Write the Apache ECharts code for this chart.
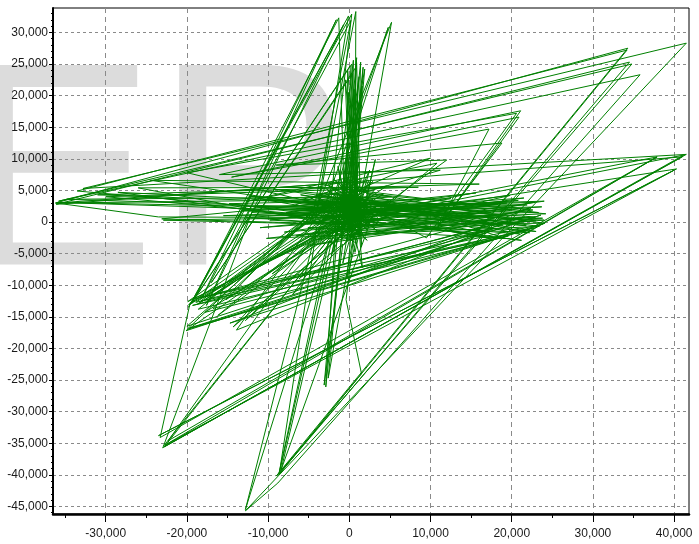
<!DOCTYPE html>
<html>
<head>
<meta charset="utf-8">
<script src="https://cdn.jsdelivr.net/npm/echarts@6/dist/echarts.min.js"></script>
<style>
html,body{margin:0;padding:0;background:#fff;}
#chart{width:699px;height:544px;}
</style>
</head>
<body>
<div id="chart"></div>
<script>
// ---- axis ranges and tick labels ----
const xMin = -36490, xMax = 41830;
const yMin = -46200, yMax = 33860;
const xMajorTicks = [-30000, -20000, -10000, 0, 10000, 20000, 30000, 40000];
const xMinorTicks = [-35000, -25000, -15000, -5000, 5000, 15000, 25000, 35000];
const yMajorTicks = [-45000, -40000, -35000, -30000, -25000, -20000, -15000, -10000, -5000, 0, 5000, 10000, 15000, 20000, 25000, 30000];
const yMinorTicks = [];
for (let v = -46000; v <= 33000; v += 1000) { if (v % 5000 !== 0) yMinorTicks.push(v); }

// ---- path of the X/Y trace (in drawing order) ----
const pathCoreA = [
  [300, 700], [1800, 2600], [-1200, -900], [2600, 4300], [-2300, 1500], [900, -2800],
  [-600, 6200], [3300, 500], [-2900, -1900], [500, 3100], [-1600, 4700], [2200, -1300],
  [-400, 1900], [1300, 5700], [-3400, 300], [4100, 2200], [-700, -3600], [1900, 1100],
  [-2800, 5200], [3700, -1700], [-1100, 3400], [600, -600], [-4800, 3900], [2400, 6600],
  [-200, -2300], [5600, 1400], [-3600, 2000], [1000, 4400], [-1900, -500], [2900, 3600]
];
const pathUpperBundle = [
  [-36200, 3000], [34300, 27500], [-9000, -40200], [34800, 25000], [-35800, 3300],
  [35800, 23300], [-8800, -41300], [-12800, -45700], [41500, 28300], [-32800, 5300],
  [41500, 10700], [-23000, -35700], [41000, 10300], [-36100, 2800], [34500, 25300],
  [-8600, -39800], [34200, 27200], [-33500, 4900], [-1500, 1300]
];
const pathBands = [
  [2400, 800], [40300, 8400], [-23500, -33800], [40000, 8200], [-22700, -35300],
  [37900, 10300], [-23300, -34100], [-19600, -12800], [-300, 900], [-22900, -35500],
  [-12000, 1500], [1600, 600], [41200, 10600], [-22800, -35600], [-1000, -200]
];
const pathLowerLeft = [
  [-20100, -17200], [23600, 1100], [-19700, -16800], [23900, -300], [-18000, -11900],
  [22400, 2300], [-14700, -16000], [21300, -1400], [-19300, -13200], [20500, 600],
  [-13900, -17100], [-3000, 2600], [-17500, -12400], [1500, 4200], [-16200, -14800],
  [-800, -500], [-19900, -12600], [-2200, 3300], [-18600, -13800], [22800, -900],
  [-20000, -17000], [-4500, 1800], [-15200, -12300], [2600, 2100], [-12800, -15600],
  [-1700, -1200], [-17800, -14300], [19600, -2200], [-18900, -12700], [-600, 2500]
];
const pathTopSpikes = [
  [-1300, 32300], [-19400, -12900], [-100, 32600], [-4100, 800], [800, 33300],
  [700, -1300], [5200, 31600], [-4600, 400], [200, 31900], [-18200, -12100],
  [-1600, 32000], [-17600, -13200], [-700, 31200], [-19800, -13500], [300, 32900],
  [-2400, 2100], [4800, 30800], [-3900, -600], [-1600, 2600]
];
const pathSpike = [
  [500, 25600], [300, -2600], [1700, 24500], [-300, 1100], [-200, 24000], [1500, -3900],
  [900, 25200], [-1100, 2100], [1200, 23000], [0, -1200], [600, 21000], [-700, 4800],
  [1900, 24200], [200, -500], [-500, 22500], [1000, 2800], [300, 25000], [-19000, -12000],
  [100, 24700], [800, -800], [1400, 25300], [-400, 3300], [-100, 20500], [1100, -2000],
  [700, 24300], [-17000, -9600], [400, 23500], [-900, 500], [1600, 21500], [-300, -3000],
  [900, 26000], [0, 1500]
];
const pathRightCluster = [
  [20800, 3400], [-2100, 1600], [23800, 600], [-5100, -900], [19200, -2600],
  [2100, 4500], [22600, 1900], [-1300, -2200], [24000, 300], [-6500, 2100],
  [21800, -600], [300, 3300], [17500, 1500], [-3500, 4100], [23000, -1500],
  [-1800, 800], [19800, 4200], [-4200, -2800], [22000, 100], [-300, 5200],
  [23300, 1500], [-7500, 1000], [21000, -1900], [3000, 3000], [24100, -200],
  [-2500, -400], [18300, 2800], [-5400, 3200], [22900, 800], [600, -1800]
];
const pathMidRight = [
  [10800, 9300], [-12500, 3300], [10000, 10100], [-2600, 3000], [11200, 8200],
  [-16000, 7500], [21100, 17600], [11500, 0], [20900, 16600], [-14500, 7100],
  [17200, 14700], [10800, -1000], [18800, 12500], [-9000, 9000], [12000, 9800],
  [2500, 1000], [-20000, 7800], [20600, 17200], [9500, -2500], [-3000, 6000]
];
const pathLeftFlat = [
  [-36100, 3000], [-23500, 800], [-1800, 700], [-22900, 300], [1300, -500],
  [-28500, 4700], [4000, 2700], [-31000, 4300], [16000, 6000], [-24500, 6600],
  [2600, 1500], [-35900, 3100], [-900, 2200], [-34800, 3600], [5200, 4000],
  [-23100, 500], [-2300, -300], [-26000, 5400], [8500, 5500], [-30000, 4000],
  [-500, 600], [37900, 10300], [-22300, -34600], [-1500, 2800]
];
const pathSouth = [
  [-2900, -26100], [-600, 2000], [-2600, -24700], [600, -1600], [-400, -12300],
  [1500, -24000], [-8700, -40000], [-2500, -3000], [-12800, -45500], [-4000, -900],
  [-8600, -39600], [-2000, -2000], [-9500, -8200], [1200, 3300], [-7000, -11500],
  [2800, 800], [-8400, -39200], [-1400, -1000], [-3100, -25800], [-800, -3500],
  [-6200, -9000], [1900, 1900], [-10500, -6500], [-400, -700]
];
const pathCoreB = [
  [1000, 900], [-2700, 3400], [2800, -800], [-1000, 5400], [3700, 1800], [-3800, -1000],
  [600, 7200], [-1900, -3400], [2400, 2900], [-800, 600], [4200, 4400], [-4300, 2200],
  [1700, -2100], [-200, 3600], [2900, 6400], [-2400, -200], [1100, 1500], [-3100, 4600],
  [3600, -400], [-1400, 2700], [5200, 3300], [-5600, 1200], [800, -3300], [-900, 4100],
  [2000, 200], [-2600, 5900], [4500, 900], [-3700, -2400], [300, 2400], [1500, 6900],
  [-6800, 2600], [6300, 1700], [-1200, -1800], [3100, 5100], [-4100, 4300], [2200, -2900],
  [-300, 400], [7200, 2900], [-5200, -300], [1400, 3900], [-2000, 6800], [3900, 200],
  [-3300, 1100], [500, 5000], [-900, -2700], [2700, 1400], [-6000, 3600], [4600, 5700],
  [-1500, 300], [100, 2900]
];
const pathCoreC = [
  [-11500, 2400], [18500, 1200], [-8000, -1600], [21500, 3800], [-12600, 700], [16800, -1800],
  [-6000, 4300], [23400, -700], [-10200, -2600], [20000, 2000], [-7200, 3100], [14500, -300],
  [-13300, 1800], [22700, 3100], [-4800, -3700], [17900, 500], [-9400, 5200], [24200, 1300],
  [-5600, -200], [12500, 3700], [-14800, 2900], [21200, -2900], [-3000, 1000], [19400, 3000],
  [-11000, -900], [23700, 2400], [-7800, 1500], [15600, 4600], [-9800, 300], [22200, -1700],
  [-2000, 4500], [18900, -500], [-12400, 4100], [20700, 1500], [-6600, -2200], [24000, 3300],
  [-8900, 2000], [13800, 1000], [-15500, 1000], [21900, 2700], [-4000, 2900], [17000, -2500],
  [-10700, 3600], [23000, 200], [-1500, -1500], [2000, 2000]
];
const pathDcluster = [
  [-19800, -13100], [-1000, 3800], [-18300, -12500], [21600, 800], [-20000, -16500],
  [-5500, -200], [-16800, -13700], [18000, -1000], [-19200, -12200], [3400, 2500],
  [-14300, -16600], [-2800, -600], [-18700, -13000], [-300, 1600]
];
const pathCoreD = [
  [1200, 9500], [-800, -6500], [2500, 8200], [-2200, -5200], [400, 10500], [1600, -7200],
  [-1400, 8800], [700, -4800], [3200, 9900], [-300, -9000], [900, 7400], [-2600, -3500],
  [200, 1000]
];
const pathPoints = [].concat(pathCoreA, pathUpperBundle, pathBands, pathLowerLeft,
  pathTopSpikes, pathSpike, pathRightCluster, pathMidRight, pathLeftFlat, pathSouth,
  pathCoreB, pathCoreC, pathDcluster, pathCoreD);

function fmt(v) {
  const s = Math.abs(v).toString().replace(/\B(?=(\d{3})+(?!\d))/g, ',');
  return (v < 0 ? '-' : '') + s;
}
const labelFont = { color: '#1a1a1a', fontFamily: '"Liberation Sans", Arial, sans-serif', fontSize: 12 };

const chart = echarts.init(document.getElementById('chart'), null, { renderer: 'canvas' });
chart.setOption({
  animation: false,
  backgroundColor: '#fff',
  grid: { left: 53, top: 8, right: 10, bottom: 30, show: true, borderColor: '#000', borderWidth: 1, backgroundColor: 'transparent' },
  graphic: [{
    type: 'text', z: -10, silent: true,
    style: { text: 'EP', x: -38, y: 184.5, fill: '#dcdcdc', font: '290px "Liberation Sans", Arial, sans-serif', textAlign: 'left', textVerticalAlign: 'middle' }
  }],
  xAxis: [{
    type: 'value', min: xMin, max: xMax, minInterval: 10000, maxInterval: 10000,
    axisLine: { show: true, onZero: false, lineStyle: { color: '#000', width: 2.5 } },
    axisTick: { show: true, length: 8, customValues: xMajorTicks, lineStyle: { color: '#000', width: 1 } },
    axisLabel: Object.assign({ margin: 14, customValues: xMajorTicks, formatter: fmt }, labelFont),
    splitLine: { show: true, lineStyle: { color: '#8a8a8a', width: 1, type: [5, 4] } }
  }, {
    type: 'value', min: xMin, max: xMax, position: 'bottom',
    axisLine: { show: false, onZero: false },
    axisTick: { show: true, length: 4, customValues: xMinorTicks, lineStyle: { color: '#000', width: 1 } },
    axisLabel: { show: false }, splitLine: { show: false }
  }],
  yAxis: [{
    type: 'value', min: yMin, max: yMax, minInterval: 5000, maxInterval: 5000,
    axisLine: { show: true, onZero: false, lineStyle: { color: '#000', width: 2 } },
    axisTick: { show: true, length: 4, customValues: yMajorTicks, lineStyle: { color: '#000', width: 1 } },
    axisLabel: Object.assign({ margin: 5, customValues: yMajorTicks, formatter: fmt }, labelFont),
    splitLine: { show: true, lineStyle: { color: '#8a8a8a', width: 1, type: [3, 3] } }
  }, {
    type: 'value', min: yMin, max: yMax, position: 'left',
    axisLine: { show: false, onZero: false },
    axisTick: { show: true, length: 2, customValues: yMinorTicks, lineStyle: { color: '#000', width: 1 } },
    axisLabel: { show: false }, splitLine: { show: false }
  }],
  series: [{
    type: 'line', xAxisIndex: 0, yAxisIndex: 0, data: pathPoints,
    showSymbol: false, symbol: 'none', clip: true,
    lineStyle: { color: '#008000', width: 1 }
  }]
});
</script>
</body>
</html>
